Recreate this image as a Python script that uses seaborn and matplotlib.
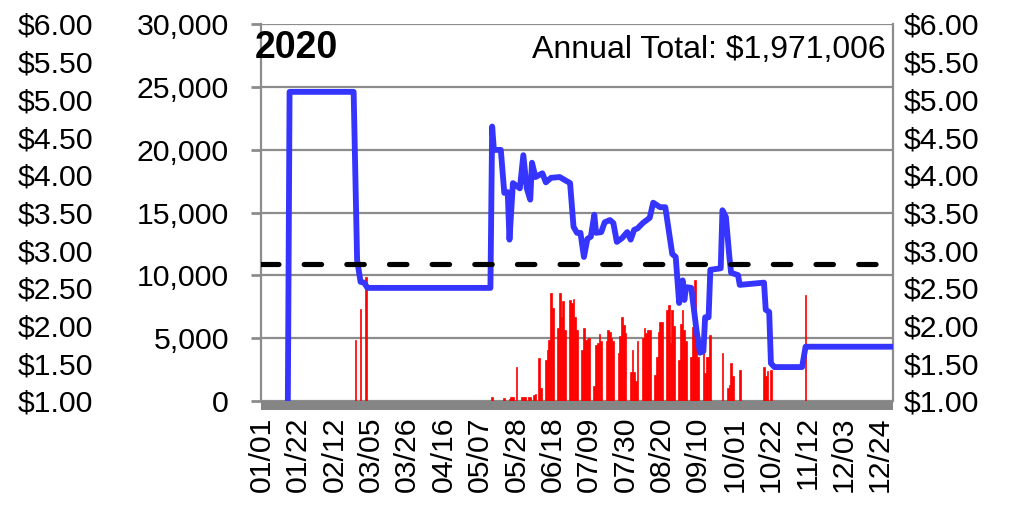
import matplotlib
matplotlib.use("Agg")
import matplotlib.pyplot as plt
from matplotlib.patches import Rectangle
from matplotlib.ticker import FuncFormatter, FixedLocator
import seaborn as sns

# ---------------- data ----------------
year_label = "2020"
annual_total = "Annual Total: $1,971,006"

tick_days = [0, 21, 42, 63, 84, 105, 126, 147, 168, 189, 210, 231, 252, 273, 294, 315, 336, 357]
tick_labels = ["01/01", "01/22", "02/12", "03/05", "03/26", "04/16", "05/07", "05/28", "06/18",
               "07/09", "07/30", "08/20", "09/10", "10/01", "10/22", "11/12", "12/03", "12/24"]

# daily volume (day index from Jan 1)
vol_days = [54, 57, 60,
            133, 140, 143, 144, 145, 147, 150, 151, 152, 154, 155, 157, 158, 160, 161,
            164, 165, 166, 167, 168,
            171, 172, 173, 174, 175,
            178, 179, 180, 181, 182,
            185, 186, 187, 188, 189,
            192, 193, 194, 195, 196,
            199, 200, 201, 202, 203,
            206, 207, 208, 209, 210,
            213, 214, 215, 216, 217,
            220, 221, 222, 223, 224,
            227, 228, 229, 230, 231,
            234, 235, 236, 237, 238,
            241, 242, 243, 244, 245,
            248, 249, 250, 251, 252,
            255, 256, 257, 258, 259,
            266, 269, 270, 271, 272, 276,
            290, 291, 292, 294, 314]
vol_vals = [4850, 7320, 9870,
            340, 260, 170, 300, 340, 2730, 300, 300, 350, 300, 350, 500, 550, 3450, 1000,
            3260, 4060, 4850, 8570, 7370,
            5780, 8600, 6710, 7980, 5670,
            8050, 7800, 8090, 6710, 5670,
            4060, 5780, 4850, 4930, 4990,
            1190, 4460, 4600, 5330, 4780,
            4780, 5650, 5520, 5000, 4800,
            3800, 5170, 6660, 6070, 5400,
            2330, 4060, 2330, 1590, 4770,
            5000, 5780, 5390, 5650, 5650,
            2090, 3510, 5520, 6260, 6260,
            7240, 7640, 4600, 7240, 6000,
            3260, 6100, 7240, 5650, 4770,
            3510, 5900, 9600, 5000, 3500,
            6310, 2230, 3500, 3500, 5250,
            3790, 1000, 1300, 3020, 2000, 2470,
            2730, 2000, 2400, 2500, 8440]

# daily average price ($)
price_days = [15, 16, 53, 55, 57, 59, 61, 132, 133, 134, 138, 140, 142, 143, 145, 149, 151, 153,
              155, 156, 158, 162, 164, 167, 172, 175, 178, 180, 182, 184, 186, 188, 190, 192, 193,
              196, 198, 201, 203, 205, 208, 211, 213, 215, 217, 220, 224, 226, 230, 233, 237, 239,
              241, 243, 244, 245, 248, 251, 253, 255, 256, 258, 259, 265, 266, 268, 270, 271, 275,
              276, 290, 291, 293, 294, 296, 312, 314, 364]
price_vals = [1.00, 5.10, 5.10, 2.87, 2.58, 2.57, 2.50, 2.50, 4.64, 4.33, 4.33, 3.76, 3.77, 3.14,
              3.89, 3.82, 4.26, 3.82, 3.67, 4.16, 3.97, 4.02, 3.90, 3.96, 3.97, 3.93, 3.89, 3.31,
              3.23, 3.23, 2.91, 3.15, 3.18, 3.47, 3.23, 3.24, 3.37, 3.40, 3.36, 3.11, 3.16, 3.24,
              3.14, 3.27, 3.29, 3.36, 3.43, 3.63, 3.57, 3.57, 2.95, 2.91, 2.30, 2.60, 2.34, 2.51,
              2.50, 1.94, 1.64, 1.66, 2.11, 2.11, 2.74, 2.76, 3.53, 3.44, 2.91, 2.70, 2.67, 2.54,
              2.57, 2.21, 2.18, 1.50, 1.45, 1.45, 1.72, 1.72]

average_price = 2.82

vol_ticks = [0, 5000, 10000, 15000, 20000, 25000, 30000]
price_ticks = [1.0, 1.5, 2.0, 2.5, 3.0, 3.5, 4.0, 4.5, 5.0, 5.5, 6.0]

# ---------------- style ----------------
sns.set_style("white")
plt.rcParams["font.family"] = ["Liberation Sans", "DejaVu Sans"]
for k in ["text.color", "xtick.color", "ytick.color", "axes.labelcolor"]:
    plt.rcParams[k] = "black"
FS = 21.8
GRAY = "#8c8c8c"

W, H = 1009, 505
fig = plt.figure(figsize=(W / 100, H / 100), dpi=100)
L, R, T, B = 261, 893, 24, 401
ax = fig.add_axes([L / W, (H - B) / H, (R - L) / W, (B - T) / H])

# volume bars
sns.barplot(x=vol_days, y=vol_vals, native_scale=True, color="#ff0000", saturation=1,
            width=1.0, linewidth=0.5, edgecolor="#ff0000", errorbar=None, ax=ax, zorder=2)
ax.set_xlim(-0.5, 364.5)
ax.set_ylim(0, 30000)
ax.yaxis.set_major_locator(FixedLocator(vol_ticks))
ax.yaxis.set_major_formatter(FuncFormatter(lambda v, p: f"{int(v):,}"))
ax.set_xticks(tick_days)
ax.set_xticklabels(tick_labels, rotation=90, fontsize=FS)
ax.tick_params(axis="x", length=0, pad=11, colors="black")
ax.tick_params(axis="y", labelsize=FS, length=7, width=2, color=GRAY, labelcolor="black",
               pad=16, direction="out")
ax.grid(axis="y", color=GRAY, linewidth=1.6)
ax.grid(axis="x", visible=False)
ax.set_axisbelow(True)
ax.set_xlabel("")
ax.set_ylabel("")
for s in ["top", "bottom"]:
    ax.spines[s].set_visible(False)
for s in ["left", "right"]:
    ax.spines[s].set_color(GRAY)
    ax.spines[s].set_linewidth(1.6)

# gray base band
ax.add_patch(Rectangle((0, -9 / (B - T)), 1, 9 / (B - T), transform=ax.transAxes,
                       facecolor="#858585", edgecolor="none", clip_on=False, zorder=3))

# price axis (right)
ax2 = ax.twinx()
sns.lineplot(x=price_days, y=price_vals, ax=ax2, color="#3535ff", linewidth=4.2,
             solid_joinstyle="round", solid_capstyle="round", zorder=4)
ax2.axhline(average_price, color="black", linewidth=3.7, linestyle=(0, (3.4, 4.9)),
            dash_capstyle="round", zorder=5)
ax2.set_ylim(1, 6)
ax2.set_xlim(-0.5, 364.5)
ax2.yaxis.set_major_locator(FixedLocator(price_ticks))
ax2.yaxis.set_major_formatter(FuncFormatter(lambda v, p: f"${v:.2f}"))
ax2.tick_params(axis="y", labelsize=FS, length=0, pad=8, labelcolor="black")
ax2.set_ylabel("")
for s in ax2.spines.values():
    s.set_visible(False)
ax2.grid(False)

# price axis (outer left)
ax3 = ax.twinx()
ax3.set_ylim(1, 6)
ax3.yaxis.set_major_locator(FixedLocator(price_ticks))
ax3.yaxis.set_major_formatter(FuncFormatter(lambda v, p: f"${v:.2f}"))
ax3.yaxis.set_ticks_position("left")
ax3.tick_params(axis="y", labelsize=FS, length=0, pad=121, labelcolor="black")
for s in ax3.spines.values():
    s.set_visible(False)
ax3.grid(False)

ax.text(-0.01, 0.985, year_label, transform=ax.transAxes, fontsize=27, fontweight="bold",
        ha="left", va="top", zorder=6)
ax.text(0.988, 0.97, annual_total, transform=ax.transAxes, fontsize=23,
        ha="right", va="top", zorder=6)

fig.savefig("out.png", dpi=100)
